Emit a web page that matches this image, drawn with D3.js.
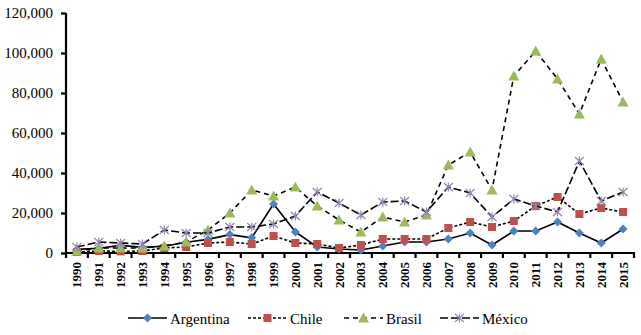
<!DOCTYPE html>
<html lang="es">
<head>
<meta charset="UTF-8">
<title>Argentina, Chile, Brasil, México 1990-2015</title>
<script src="https://d3js.org/d3.v7.min.js"></script>
<style>
  body { margin: 0; background: #fff; }
  svg text { fill: #000; }
</style>
</head>
<body>
<svg id="chart" width="641" height="335"></svg>
<script>
// years on the x axis
const years = d3.range(1990, 2016).map(String);

// series values
const argentina = [1800, 2400, 3800, 2800, 3400, 5400, 6800, 9200, 7600, 24500, 10500, 3000, 2000, 1500, 3500, 5500, 5500, 7000, 10000, 4000, 11000, 11000, 15500, 10000, 5000, 12000];
const chile = [500, 1000, 800, 1000, 2500, 3000, 5000, 5500, 4500, 8500, 5000, 4500, 2500, 4000, 7000, 7000, 7000, 12500, 15500, 13000, 16000, 23500, 28000, 19500, 22500, 20500];
const brasil = [1000, 2500, 2500, 2500, 3500, 5500, 11500, 20000, 31500, 28500, 33000, 23500, 16500, 10500, 18000, 15500, 19000, 44000, 50500, 31500, 88500, 101000, 87000, 69500, 97000, 75500];
const mexico = [3000, 5500, 5000, 4500, 11500, 10000, 10000, 13000, 13000, 14500, 18500, 30500, 25000, 19000, 25500, 26000, 20500, 33000, 30000, 18000, 27000, 23500, 20500, 46000, 26000, 30500];

const yTicks = [0, 20000, 40000, 60000, 80000, 100000, 120000];

const series = [
  { name: "Argentina", values: argentina, dash: null, color: "#4F81BD", marker: "diamond" },
  { name: "Chile", values: chile, dash: "3,2", color: "#C0504D", marker: "square" },
  { name: "Brasil", values: brasil, dash: "5,4", color: "#9BBB59", marker: "triangle" },
  { name: "México", values: mexico, dash: "8,3", color: "#8064A2", marker: "x" }
];

const serif = "'Liberation Serif', 'DejaVu Serif', serif";

const svg = d3.select("#chart");
const plotLeft = 66, plotRight = 634, plotTop = 13, plotBottom = 253;

const x = d3.scaleBand().domain(years).range([plotLeft, plotRight]);
const y = d3.scaleLinear().domain([0, 120000]).range([plotBottom, plotTop]);

// y axis
const yAxis = svg.append("g")
  .attr("transform", `translate(${plotLeft},0)`)
  .call(d3.axisLeft(y).tickValues(yTicks).tickSize(5).tickPadding(8)
    .tickFormat(d3.format(",")));
yAxis.attr("font-family", null).attr("font-size", null);
yAxis.select(".domain").attr("stroke-width", 2.2).attr("d", `M0,${plotTop}V${plotBottom}`);
yAxis.selectAll(".tick line").attr("stroke-width", 2.2);
yAxis.selectAll(".tick text").style("font-family", serif).style("font-size", "15px");

// x axis: tick marks sit between categories
const xAxis = svg.append("g").attr("transform", `translate(0,${plotBottom})`);
xAxis.append("line").attr("x1", plotLeft - 1).attr("x2", plotRight + 1)
  .attr("stroke", "#000").attr("stroke-width", 2.2);
xAxis.selectAll(".xt").data(years.concat(["end"])).enter().append("line")
  .attr("x1", (d, i) => plotLeft + i * x.step())
  .attr("x2", (d, i) => plotLeft + i * x.step())
  .attr("y1", 0).attr("y2", 5)
  .attr("stroke", "#000").attr("stroke-width", 2.2);
xAxis.selectAll(".xl").data(years).enter().append("text")
  .attr("transform", d => `translate(${x(d) + x.bandwidth() / 2 + 4.5},9) rotate(-90)`)
  .attr("text-anchor", "end")
  .style("font-family", serif)
  .style("font-size", "13px")
  .style("font-weight", "bold")
  .text(d => d);

const cx = (d, i) => x(years[i]) + x.bandwidth() / 2;

function drawMarker(g, type, color) {
  if (type === "diamond") {
    g.append("path").attr("d", "M0,-4.5L4.5,0L0,4.5L-4.5,0Z").attr("fill", color);
  } else if (type === "square") {
    g.append("rect").attr("x", -4).attr("y", -4).attr("width", 8).attr("height", 8).attr("fill", color);
  } else if (type === "triangle") {
    g.append("path").attr("d", "M0,-5.5L5.5,4.5L-5.5,4.5Z").attr("fill", color);
  } else {
    g.append("path").attr("d", "M-4.5,-4L4.5,4M-4.5,4L4.5,-4M0,-4.5V4.5")
      .attr("stroke", "#9384B0").attr("stroke-width", 1.2).attr("fill", "none");
  }
}

const line = d3.line().x(cx).y(d => y(d));

series.forEach(s => {
  svg.append("path")
    .datum(s.values)
    .attr("d", line)
    .attr("fill", "none")
    .attr("stroke", "#000")
    .attr("stroke-width", 1.6)
    .attr("stroke-dasharray", s.dash);
  s.values.forEach((v, i) => {
    const g = svg.append("g").attr("transform", `translate(${cx(v, i)},${y(v)})`);
    drawMarker(g, s.marker, s.color);
  });
});

// legend
const legendX = [128, 248, 344, 440];
const legend = svg.append("g").attr("transform", "translate(0,318)");
series.forEach((s, i) => {
  const g = legend.append("g").attr("transform", `translate(${legendX[i]},0)`);
  g.append("line").attr("x1", 0).attr("x2", 39).attr("y1", 0).attr("y2", 0)
    .attr("stroke", "#000").attr("stroke-width", 1.6).attr("stroke-dasharray", s.dash);
  const m = g.append("g").attr("transform", "translate(19.5,0)");
  drawMarker(m, s.marker, s.color);
  g.append("text").attr("x", 42).attr("y", 5.5)
    .style("font-family", serif).style("font-size", "15px").text(s.name);
});
</script>
</body>
</html>
